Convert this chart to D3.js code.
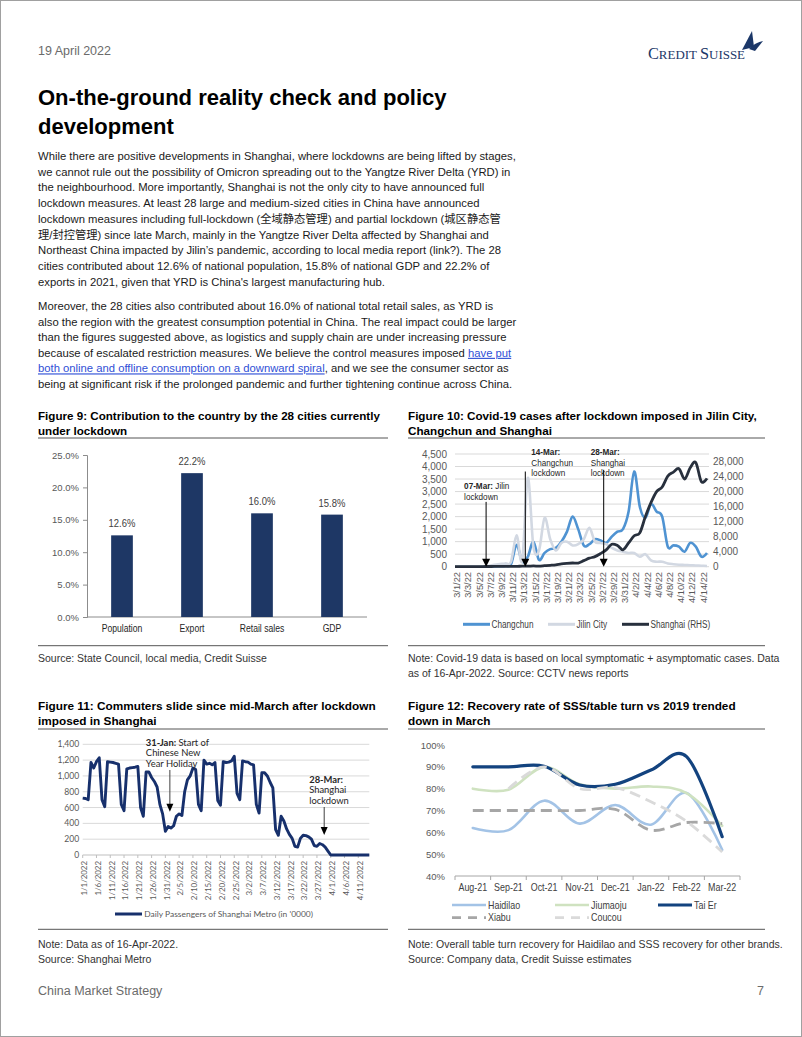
<!DOCTYPE html>
<html>
<head>
<meta charset="utf-8">
<script src="https://cdn.jsdelivr.net/npm/d3@7"></script>
<style>
  body { margin: 0; background: #fff; }
  svg { display: block; }
</style>
</head>
<body>
<div id="page"></div>
<script>
const W = 802, H = 1037
const SANS = "'Liberation Sans', Arial, Helvetica, 'Noto Sans CJK SC', sans-serif"
const CALI = "Lato, 'Open Sans', sans-serif"
const AXIS_GREY = "#595959"

// ---------- Figure 9 data ----------
const fig9Categories = ["Population", "Export", "Retail sales", "GDP"]
const fig9Values = [12.6, 22.2, 16.0, 15.8]
const fig9Ticks = [0, 5, 10, 15, 20, 25]

// ---------- Figure 10 data ----------
const fig10Dates = ["3/1/22","3/2/22","3/3/22","3/4/22","3/5/22","3/6/22","3/7/22","3/8/22","3/9/22","3/10/22",
  "3/11/22","3/12/22","3/13/22","3/14/22","3/15/22","3/16/22","3/17/22","3/18/22","3/19/22","3/20/22",
  "3/21/22","3/22/22","3/23/22","3/24/22","3/25/22","3/26/22","3/27/22","3/28/22","3/29/22","3/30/22",
  "3/31/22","4/1/22","4/2/22","4/3/22","4/4/22","4/5/22","4/6/22","4/7/22","4/8/22","4/9/22",
  "4/10/22","4/11/22","4/12/22","4/13/22","4/14/22","4/15/22"]
const changchun = [0,0,0,0,0,5,10,10,20,30, 100,870,200,400,1000,270,550,700,750,1000,
  1400,2000,1500,850,900,1100,1050,950,1200,1400, 1500,2200,3800,2400,1950,2500,2200,2000,800,850,
  800,600,950,800,400,550]
const jilinCity = [0,0,0,0,5,10,30,80,110,130, 200,1250,250,3550,800,650,1950,1100,650,950,
  1000,850,900,1100,1550,1000,950,900,750,650, 600,550,550,400,500,250,200,200,130,100,
  80,70,60,50,40,30]
const shanghai = [2,8,16,5,28,45,54,65,79,75, 83,65,169,139,202,158,260,374,509,758,
  896,981,983,1609,2269,2678,3500,4477,5982,5653, 4502,6311,8226,9006,13354,17077,19982,21222,24101,25173,
  26087,23342,26330,27719,22623,23513]
const fig10LeftTicks = [0,500,1000,1500,2000,2500,3000,3500,4000,4500]
const fig10RightTicks = [0,4000,8000,12000,16000,20000,24000,28000]

// ---------- Figure 11 data (daily, starting 1 Jan 2022) ----------
const fig11Start = "2022-01-01"
const metroPassengers = [
  720,715,700,1170,1100,1180,1230,700,610,1180,1175,1170,1160,1150,640,560,1090,1100,1105,1110,
  1120,600,490,1050,1050,980,930,860,640,520,300,
  360,340,370,490,520,500,800,950,1000,1100,1080,640,560,1200,1150,1160,1140,1170,690,630,
  1180,1170,1175,1190,1250,780,700,1190,
  1180,1175,1150,1140,640,530,1040,1040,1000,920,850,320,250,490,430,330,260,210,110,100,
  210,250,245,230,200,120,110,145,130,100,50,
  0,0,0,0,0,0,0,0,0,0,0,0,0,0,0]
const fig11TickLabels = ["1/1/2022","1/6/2022","1/11/2022","1/16/2022","1/21/2022","1/26/2022","1/31/2022",
  "2/5/2022","2/10/2022","2/15/2022","2/20/2022","2/25/2022","3/2/2022","3/7/2022","3/12/2022",
  "3/17/2022","3/22/2022","3/27/2022","4/1/2022","4/6/2022","4/11/2022"]
const fig11Ticks = [0,200,400,600,800,1000,1200,1400]

// ---------- Figure 12 data ----------
const fig12Months = ["Aug-21","Sep-21","Oct-21","Nov-21","Dec-21","Jan-22","Feb-22","Mar-22"]
const haidilao = [62, 61, 74.5, 64, 72.5, 63.5, 78, 52]
const jiumaoju = [80, 79.5, 90, 82, 80, 81, 78, 63]
const taiEr = [90, 90, 90.3, 81.7, 82, 88.5, 94.7, 58]
const xiabu = [70, 70, 70, 70, 70.5, 61, 64.5, 64]
const coucou = [null, 80, 90, 80, 80.5, 74, 65, 51]
const fig12Ticks = [40, 50, 60, 70, 80, 90, 100]

// ---------- page ----------
const svg = d3.select("#page").append("svg")
  .attr("width", W).attr("height", H)
  .attr("font-family", SANS)

svg.append("rect").attr("x", 0.5).attr("y", 0.5).attr("width", W - 1).attr("height", H - 1)
  .attr("fill", "#fff").attr("stroke", "#a0a0a0")

function fitWidth(sel, width) {
  const w = sel.node().getComputedTextLength()
  const fs = parseFloat(sel.attr("font-size"))
  const nfs = fs * width / w
  sel.attr("font-size", nfs)
  return nfs
}
// the source charts use a narrow face; squeeze the regular face horizontally instead
function condense(sel, k = 0.82) {
  sel.each(function () {
    const w = this.getComputedTextLength()
    d3.select(this).attr("textLength", w * k).attr("lengthAdjust", "spacingAndGlyphs")
  })
  return sel
}

// header
svg.append("text").attr("x", 38).attr("y", 55).attr("font-size", 12.5)
  .attr("fill", "#6b6b6b").text("19 April 2022")

// Credit Suisse logo
const logo = svg.append("g").attr("fill", "#1b3768")
const logoText = logo.append("text").attr("x", 648).attr("y", 59)
  .attr("font-family", "'Liberation Serif', 'DejaVu Serif', serif").attr("font-size", 13.5)
logoText.append("tspan").attr("font-size", 17).text("C")
logoText.append("tspan").text("REDIT ")
logoText.append("tspan").attr("font-size", 17).text("S")
logoText.append("tspan").text("UISSE")
logoText.attr("textLength", 97).attr("lengthAdjust", "spacingAndGlyphs")
logo.append("path").attr("d", "M742,50 L752,31 L754,47 Z")
logo.append("path").attr("d", "M749,49 C754,44 758,42 763,41 L755,51 Z")

// page title
const t1 = svg.append("text").attr("x", 38).attr("y", 105).attr("font-size", 24)
  .attr("font-weight", "bold").attr("fill", "#000").text("On-the-ground reality check and policy")
fitWidth(t1, 409)
svg.append("text").attr("x", 38).attr("y", 134).attr("font-size", t1.attr("font-size"))
  .attr("font-weight", "bold").attr("fill", "#000").text("development")

// body text
const para1 = [
  "While there are positive developments in Shanghai, where lockdowns are being lifted by stages,",
  "we cannot rule out the possibility of Omicron spreading out to the Yangtze River Delta (YRD) in",
  "the neighbourhood. More importantly, Shanghai is not the only city to have announced full",
  "lockdown measures. At least 28 large and medium-sized cities in China have announced",
  "lockdown measures including full-lockdown (全域静态管理) and partial lockdown (城区静态管",
  "理/封控管理) since late March, mainly in the Yangtze River Delta affected by Shanghai and",
  "Northeast China impacted by Jilin’s pandemic, according to local media report (link?). The 28",
  "cities contributed about 12.6% of national population, 15.8% of national GDP and 22.2% of",
  "exports in 2021, given that YRD is China's largest manufacturing hub."
]
const para2 = [
  [["Moreover, the 28 cities also contributed about 16.0% of national total retail sales, as YRD is", 0]],
  [["also the region with the greatest consumption potential in China. The real impact could be larger", 0]],
  [["than the figures suggested above, as logistics and supply chain are under increasing pressure", 0]],
  [["because of escalated restriction measures. We believe the control measures imposed ", 0], ["have put", 1]],
  [["both online and offline consumption on a downward spiral", 1], [", and we see the consumer sector as", 0]],
  [["being at significant risk if the prolonged pandemic and further tightening continue across China.", 0]]
]
const probe = svg.append("text").attr("font-size", 12).text(para2[1][0][0])
const bodySize = fitWidth(probe, 479)
probe.remove()

const body = svg.append("g").attr("font-size", bodySize).attr("fill", "#1a1a1a")
para1.forEach((line, i) => {
  body.append("text").attr("x", 38).attr("y", 160 + i * 15.7).text(line)
})
para2.forEach((parts, i) => {
  const t = body.append("text").attr("x", 38).attr("y", 310 + i * 15.6)
  parts.forEach(([s, link]) => {
    const sp = t.append("tspan").text(s)
    if (link) sp.attr("fill", "#2f4fd6").attr("text-decoration", "underline")
  })
})

// footer
svg.append("text").attr("x", 38).attr("y", 995).attr("font-size", 12.5).attr("fill", "#6b6b6b")
  .text("China Market Strategy")
svg.append("text").attr("x", 764).attr("y", 995).attr("font-size", 12.5).attr("fill", "#6b6b6b")
  .attr("text-anchor", "end").text("7")

// figure frame helper: title lines, rules, notes
const titleWidths = [342, 349, 338, 328]
function figureFrame(x0, x1, titleY, titleLines, ruleY, sepY, notes, noteY) {
  const g = svg.append("g")
  let fs = 12.5
  titleLines.forEach((s, i) => {
    const t = g.append("text").attr("x", x0).attr("y", titleY + i * 15.6)
      .attr("font-size", fs).attr("font-weight", "bold").attr("fill", "#000").text(s)
    if (i === 0) fs = fitWidth(t, titleWidths.shift())
    else t.attr("font-size", fs)
  })
  g.append("line").attr("x1", x0).attr("x2", x1).attr("y1", ruleY).attr("y2", ruleY)
    .attr("stroke", "#555").attr("stroke-width", 1)
  g.append("line").attr("x1", x0).attr("x2", x1).attr("y1", sepY).attr("y2", sepY)
    .attr("stroke", "#555").attr("stroke-width", 1)
  notes.forEach((s, i) => {
    g.append("text").attr("x", x0).attr("y", noteY + i * 15).attr("font-size", 10.5)
      .attr("fill", "#333").text(s)
  })
  return g
}

figureFrame(38, 388, 419.5, ["Figure 9: Contribution to the country by the 28 cities currently", "under lockdown"],
  438, 645.7, ["Source: State Council, local media, Credit Suisse"], 662)
figureFrame(408, 765, 419.5, ["Figure 10: Covid-19 cases after lockdown imposed in Jilin City,", "Changchun and Shanghai"],
  438, 645.7, ["Note: Covid-19 data is based on local symptomatic + asymptomatic cases. Data",
    "as of 16-Apr-2022. Source: CCTV news reports"], 662)
figureFrame(38, 388, 709.5, ["Figure 11: Commuters slide since mid-March after lockdown", "imposed in Shanghai"],
  729, 929.3, ["Note: Data as of 16-Apr-2022.", "Source: Shanghai Metro"], 948)
figureFrame(408, 765, 709.5, ["Figure 12: Recovery rate of SSS/table turn vs 2019 trended", "down in March"],
  729, 929.3, ["Note: Overall table turn recovery for Haidilao and SSS recovery for other brands.",
    "Source: Company data, Credit Suisse estimates"], 948)

// arrow helper
function arrow(g, x, yTop, yTip, color, headW, headH) {
  g.append("line").attr("x1", x).attr("x2", x).attr("y1", yTop).attr("y2", yTip - headH + 1)
    .attr("stroke", color).attr("stroke-width", 1)
  g.append("path")
    .attr("d", `M${x - headW / 2},${yTip - headH} L${x + headW / 2},${yTip - headH} L${x},${yTip} Z`)
    .attr("fill", "#000")
}
// annotation block: each line is a list of [text, bold]; squeeze < 1 narrows it horizontally
function noteText(g, x, y, lines, lh, font, size, squeeze) {
  const blk = g.append("g").attr("transform", `translate(${x},${y}) scale(${squeeze || 1},1)`)
  lines.forEach((parts, i) => {
    const t = blk.append("text").attr("x", 0).attr("y", i * lh)
      .attr("font-family", font).attr("font-size", size).attr("fill", "#262626")
    parts.forEach(([s, b]) => t.append("tspan").attr("font-weight", b ? "bold" : null).text(s))
  })
}

// ================= Figure 9 =================
{
  const g = svg.append("g")
  const x = d3.scaleBand().domain(fig9Categories).range([87, 367]).paddingInner(0.69).paddingOuter(0.345)
  const y = d3.scaleLinear().domain([0, 25]).range([617, 455])

  const ax = g.append("g").attr("transform", "translate(87,0)")
    .call(d3.axisLeft(y).tickValues(fig9Ticks).tickSize(4).tickPadding(4).tickFormat(d => d.toFixed(1) + "%"))
  ax.select(".domain").attr("stroke", "#8c8c8c")
  ax.selectAll(".tick line").attr("stroke", "#8c8c8c")
  ax.selectAll(".tick text").attr("font-family", SANS).attr("font-size", 9.5).attr("fill", AXIS_GREY)

  g.append("line").attr("x1", 87).attr("x2", 367).attr("y1", y(0)).attr("y2", y(0)).attr("stroke", "#8c8c8c")

  g.selectAll(".bar").data(fig9Values).join("rect")
    .attr("x", (d, i) => x(fig9Categories[i])).attr("width", x.bandwidth())
    .attr("y", d => y(d)).attr("height", d => y(0) - y(d)).attr("fill", "#1e3765")

  condense(g.selectAll(".lbl").data(fig9Values).join("text")
    .attr("x", (d, i) => x(fig9Categories[i]) + x.bandwidth() / 2).attr("y", d => y(d) - 8)
    .attr("text-anchor", "middle").attr("font-size", 10.5).attr("fill", "#404040")
    .text(d => d.toFixed(1) + "%"), 0.9)

  condense(g.selectAll(".cat").data(fig9Categories).join("text")
    .attr("x", d => x(d) + x.bandwidth() / 2).attr("y", 632)
    .attr("text-anchor", "middle").attr("font-size", 10.5).attr("fill", "#262626")
    .text(d => d))
}

// ================= Figure 10 =================
{
  const g = svg.append("g")
  const x = d3.scalePoint().domain(fig10Dates).range([455, 707])
  const yL = d3.scaleLinear().domain([0, 4500]).range([566.7, 454])
  const yR = d3.scaleLinear().domain([0, 30000]).range([566.7, 454])

  g.selectAll(".grid").data(fig10LeftTicks).join("line")
    .attr("x1", 455).attr("x2", 709).attr("y1", d => yL(d)).attr("y2", d => yL(d))
    .attr("stroke", "#d9d9d9").attr("stroke-width", 1)

  g.selectAll(".yl").data(fig10LeftTicks).join("text")
    .attr("x", 447).attr("y", d => yL(d) + 3.5).attr("text-anchor", "end")
    .attr("font-size", 10).attr("fill", AXIS_GREY).text(d3.format(","))
  g.selectAll(".yr").data(fig10RightTicks).join("text")
    .attr("x", 713).attr("y", d => yR(d) + 3.5).attr("text-anchor", "start")
    .attr("font-size", 10).attr("fill", AXIS_GREY).text(d3.format(","))

  g.selectAll(".xl").data(fig10Dates.filter((d, i) => i % 2 === 0)).join("text")
    .attr("transform", d => `translate(${x(d) + 2},572) rotate(-90)`)
    .attr("text-anchor", "end").attr("dy", "0.35em")
    .attr("font-size", 9.3).attr("fill", AXIS_GREY).text(d => d)

  const curve = d3.curveCatmullRom.alpha(0)
  const lineL = d3.line().x((d, i) => x(fig10Dates[i])).y(d => yL(d)).curve(curve)
  const lineR = d3.line().x((d, i) => x(fig10Dates[i])).y(d => yR(d)).curve(curve)

  g.append("path").attr("d", lineL(changchun)).attr("fill", "none")
    .attr("stroke", "#4f93d2").attr("stroke-width", 2.6).attr("stroke-linejoin", "round")
  g.append("path").attr("d", lineL(jilinCity)).attr("fill", "none")
    .attr("stroke", "#d2d8e2").attr("stroke-width", 2.6).attr("stroke-linejoin", "round")
  g.append("path").attr("d", lineR(shanghai)).attr("fill", "none")
    .attr("stroke", "#28303d").attr("stroke-width", 2.8).attr("stroke-linejoin", "round")

  // annotations
  const notes = [
    { date: "3/7/22", dx: -22, lines: [[["07-Mar:", 1], [" Jilin", 0]], [["lockdown", 0]]], textAt: 3088, top: 2588 },
    { date: "3/14/22", dx: 6, lines: [[["14-Mar:", 1]], [["Changchun", 0]], [["lockdown", 0]]], textAt: 4460, top: 3800 },
    { date: "3/28/22", dx: -13, lines: [[["28-Mar:", 1]], [["Shanghai", 0]], [["lockdown", 0]]], textAt: 4460, top: 3868 }
  ]
  notes.forEach(n => {
    const ax = x(n.date) - 2.5
    noteText(g, ax + n.dx, yL(n.textAt), n.lines, 10.65, SANS, 9.6, 0.85)
    arrow(g, ax, yL(n.top), yL(0), "#000", 8, 8)
  })

  // legend
  const legend = [
    { name: "Changchun", color: "#4f93d2", x: 463 },
    { name: "Jilin City", color: "#d2d8e2", x: 548 },
    { name: "Shanghai (RHS)", color: "#28303d", x: 622 }
  ]
  legend.forEach(l => {
    g.append("line").attr("x1", l.x).attr("x2", l.x + 27).attr("y1", 624.3).attr("y2", 624.3)
      .attr("stroke", l.color).attr("stroke-width", 3)
    condense(g.append("text").attr("x", l.x + 28.5).attr("y", 627.8)
      .attr("font-size", 10).attr("fill", "#404040").text(l.name))
  })
}

// ================= Figure 11 =================
{
  const g = svg.append("g").attr("font-family", CALI)
  const start = d3.timeParse("%Y-%m-%d")(fig11Start)
  const days = metroPassengers.map((v, i) => d3.timeDay.offset(start, i))
  const x = d3.scaleTime().domain([days[0], days[days.length - 1]]).range([82.7, 369.3])
  const y = d3.scaleLinear().domain([0, 1400]).range([855, 744.3])
  const parseMDY = d3.timeParse("%m/%d/%Y")

  g.selectAll(".grid").data(fig11Ticks.filter(d => d > 0)).join("line")
    .attr("x1", 82.7).attr("x2", 369.3).attr("y1", d => y(d)).attr("y2", d => y(d))
    .attr("stroke", "#d9d9d9")
  g.append("line").attr("x1", 82.7).attr("x2", 369.3).attr("y1", y(0)).attr("y2", y(0))
    .attr("stroke", "#bfbfbf")
  g.selectAll(".tk").data(fig11TickLabels).join("line")
    .attr("x1", d => x(parseMDY(d))).attr("x2", d => x(parseMDY(d)))
    .attr("y1", y(0)).attr("y2", y(0) + 3).attr("stroke", "#bfbfbf")

  g.selectAll(".yl").data(fig11Ticks).join("text")
    .attr("x", 79.3).attr("y", d => y(d) + 3).attr("text-anchor", "end")
    .attr("font-size", 8.6).attr("fill", AXIS_GREY).text(d3.format(","))

  g.selectAll(".xl").data(fig11TickLabels).join("text")
    .attr("transform", d => `translate(${x(parseMDY(d)) + 1.5},861) rotate(-90)`)
    .attr("text-anchor", "end").attr("dy", "0.35em")
    .attr("font-size", 7.9).attr("fill", AXIS_GREY).text(d => d)

  const line = d3.line().x((d, i) => x(days[i])).y(d => y(d))
  g.append("path").attr("d", line(metroPassengers)).attr("fill", "none")
    .attr("stroke", "#17306c").attr("stroke-width", 2.9).attr("stroke-linejoin", "round")

  const notes = [
    { date: "1/31/2022", dx: -24, lines: [[["31-Jan:", 1], [" Start of", 0]], [["Chinese New", 0]], [["Year Holiday", 0]]],
      textAt: 1384, top: 1075, tip: 548 },
    { date: "3/28/2022", dx: -15, lines: [[["28-Mar:", 1]], [["Shanghai", 0]], [["lockdown", 0]]],
      textAt: 916, top: 607, tip: 253 }
  ]
  notes.forEach(n => {
    const ax = x(parseMDY(n.date)) + 4.5
    noteText(g, ax + n.dx, y(n.textAt), n.lines, 10.85, CALI, 9.4, null)
    arrow(g, ax, y(n.top), y(n.tip), "#404040", 7, 8)
  })

  g.append("line").attr("x1", 115).attr("x2", 142).attr("y1", 914).attr("y2", 914)
    .attr("stroke", "#17306c").attr("stroke-width", 3)
  const lt = g.append("text").attr("x", 144.3).attr("y", 917).attr("font-size", 9)
    .attr("fill", AXIS_GREY).text("Daily Passengers of Shanghai Metro (in '0000)")
  fitWidth(lt, 169)
}

// ================= Figure 12 =================
{
  const g = svg.append("g")
  const x = d3.scaleBand().domain(fig12Months).range([455, 740])
  const cx = d => x(d) + x.bandwidth() / 2
  const y = d3.scaleLinear().domain([40, 100]).range([876, 745])

  g.selectAll(".yl").data(fig12Ticks).join("text")
    .attr("x", 445).attr("y", d => y(d) + 3.5).attr("text-anchor", "end")
    .attr("font-size", 9.5).attr("fill", AXIS_GREY).text(d => d + "%")

  g.append("line").attr("x1", 455).attr("x2", 740).attr("y1", y(40)).attr("y2", y(40))
    .attr("stroke", "#a6a6a6")
  g.selectAll(".tk").data(fig12Months.concat(["end"])).join("line")
    .attr("x1", (d, i) => i < fig12Months.length ? x(d) : 740)
    .attr("x2", (d, i) => i < fig12Months.length ? x(d) : 740)
    .attr("y1", y(40)).attr("y2", y(40) + 4).attr("stroke", "#a6a6a6")

  condense(g.selectAll(".xl").data(fig12Months).join("text")
    .attr("x", cx).attr("y", 890.5).attr("text-anchor", "middle")
    .attr("font-size", 10.6).attr("fill", "#404040").text(d => d), 0.84)

  const series = [
    { name: "Haidilao", values: haidilao, color: "#a3c3e6", width: 2.6, dash: null },
    { name: "Jiumaoju", values: jiumaoju, color: "#cfe2c0", width: 2.6, dash: null },
    { name: "Tai Er", values: taiEr, color: "#13437f", width: 3.2, dash: null },
    { name: "Xiabu", values: xiabu, color: "#a6a6a6", width: 2.8, dash: "11,6" },
    { name: "Coucou", values: coucou, color: "#dadada", width: 2.8, dash: "11,6" }
  ]
  const line = d3.line().defined(d => d != null)
    .x((d, i) => cx(fig12Months[i])).y(d => y(d)).curve(d3.curveCatmullRom.alpha(0))
  series.forEach(s => {
    g.append("path").attr("d", line(s.values)).attr("fill", "none")
      .attr("stroke", s.color).attr("stroke-width", s.width).attr("stroke-dasharray", s.dash)
      .attr("stroke-linecap", s.dash ? "butt" : "round")
  })

  const legendPos = [[452, 905], [555, 905], [658, 905], [452, 917.7], [555, 917.7]]
  series.forEach((s, i) => {
    const [lx, ly] = legendPos[i]
    g.append("line").attr("x1", lx).attr("x2", lx + 34).attr("y1", ly).attr("y2", ly)
      .attr("stroke", s.color).attr("stroke-width", s.width).attr("stroke-dasharray", s.dash ? "9,7" : null)
    condense(g.append("text").attr("x", lx + 36).attr("y", ly + 3.5)
      .attr("font-size", 10.6).attr("fill", "#404040").text(s.name), 0.84)
  })
}
</script>
</body>
</html>
